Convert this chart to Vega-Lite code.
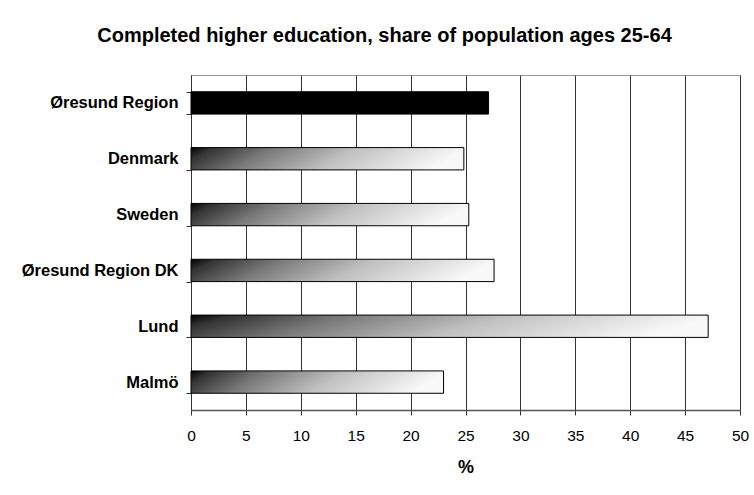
{
  "$schema": "https://vega.github.io/schema/vega-lite/v6.json",
  "autosize": "none",
  "width": 549,
  "height": 335,
  "padding": {"left": 191, "top": 75, "right": 14, "bottom": 85},
  "background": "white",
  "title": {
    "text": "Completed higher education, share of population ages 25-64",
    "font": "Liberation Sans",
    "fontSize": 20,
    "fontWeight": "bold",
    "color": "black",
    "anchor": "middle",
    "frame": "group",
    "baseline": "alphabetic",
    "offset": 5,
    "dx": -81
  },
  "data": {
    "values": [
      {"region": "Øresund Region", "share": 27.1},
      {"region": "Denmark", "share": 24.85},
      {"region": "Sweden", "share": 25.3},
      {"region": "Øresund Region DK", "share": 27.6},
      {"region": "Lund", "share": 47.1},
      {"region": "Malmö", "share": 23.0}
    ]
  },
  "mark": {"type": "bar", "stroke": "black", "strokeWidth": 1},
  "encoding": {
    "y": {
      "field": "region",
      "type": "nominal",
      "sort": null,
      "scale": {"paddingInner": 0.6, "paddingOuter": 0.3},
      "axis": {
        "title": null,
        "tickBand": "extent",
        "tickSize": 5,
        "tickColor": "#333",
        "domainColor": "#333",
        "labelFont": "Liberation Sans",
        "labelFontSize": 16.5,
        "labelFontWeight": "bold",
        "labelColor": "black",
        "labelPadding": 8,
        "grid": false
      }
    },
    "x": {
      "field": "share",
      "type": "quantitative",
      "scale": {"domain": [0, 50], "nice": false},
      "axis": {
        "title": "%",
        "values": [0, 5, 10, 15, 20, 25, 30, 35, 40, 45, 50],
        "grid": true,
        "gridColor": "#333",
        "gridWidth": 1,
        "tickSize": 5,
        "tickColor": "#333",
        "domainColor": "#555",
        "domainWidth": 1.5,
        "labelFont": "Liberation Sans",
        "labelFontSize": 15.5,
        "labelColor": "black",
        "labelPadding": 13,
        "labelFlush": false,
        "titleFont": "Liberation Sans",
        "titleFontSize": 18,
        "titleFontWeight": "bold",
        "titleColor": "black",
        "titlePadding": 15
      }
    },
    "fill": {
      "condition": {"test": "datum.region === 'Øresund Region'", "value": "black"},
      "value": {
        "gradient": "linear",
        "x1": 0, "y1": 0, "x2": 1, "y2": 0.15,
        "stops": [
          {"offset": 0, "color": "#000000"},
          {"offset": 0.08, "color": "#333333"},
          {"offset": 0.3, "color": "#7a7a7a"},
          {"offset": 0.6, "color": "#c0c0c0"},
          {"offset": 1, "color": "#f8f8f8"}
        ]
      }
    }
  },
  "config": {
    "view": {"stroke": "#999", "strokeWidth": 1}
  }
}
